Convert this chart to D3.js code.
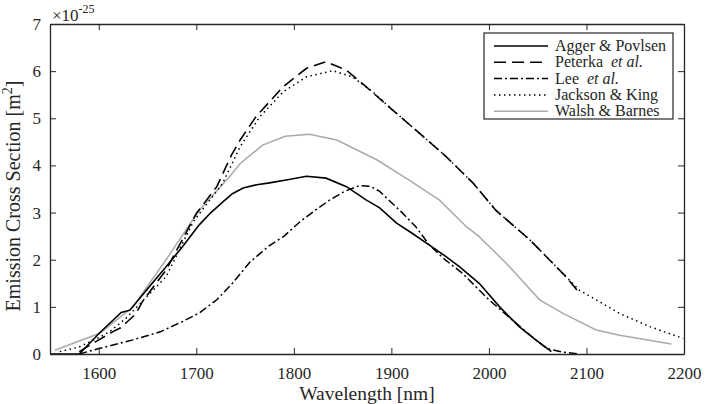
<!DOCTYPE html>
<html>
<head>
<meta charset="utf-8">
<script src="https://cdn.jsdelivr.net/npm/d3@7"></script>
<style>
  body { margin: 0; background: #fff; }
  svg { display: block; }
</style>
</head>
<body>
<div id="chart"></div>
<script>
// series data (wavelength in nm, cross section in 1e-25 m^2)
var aggerX = [1550, 1580, 1601, 1623, 1632, 1649, 1669, 1686, 1703, 1715, 1727, 1737, 1748, 1762, 1775, 1795, 1813, 1833, 1854, 1874, 1888, 1905, 1922, 1939, 1955, 1970, 1990, 2011, 2031, 2048, 2059, 2064];
var aggerY = [0, 0, 0.45, 0.88, 0.93, 1.36, 1.85, 2.28, 2.74, 3.00, 3.22, 3.40, 3.52, 3.59, 3.63, 3.70, 3.77, 3.73, 3.55, 3.27, 3.10, 2.78, 2.55, 2.31, 2.08, 1.85, 1.50, 1.00, 0.58, 0.30, 0.13, 0.05];

var peterkaX = [1580, 1600, 1615, 1622, 1630, 1638, 1645, 1669, 1700, 1721, 1736, 1745, 1761, 1789, 1813, 1833, 1854, 1874, 1901, 1929, 1956, 1984, 2007, 2042, 2079, 2093];
var peterkaY = [0.05, 0.30, 0.48, 0.55, 0.70, 0.85, 1.12, 1.78, 2.98, 3.55, 4.22, 4.54, 5.03, 5.67, 6.06, 6.20, 6.02, 5.67, 5.18, 4.68, 4.19, 3.62, 3.05, 2.42, 1.64, 1.29];

var leeX = [1580, 1601, 1635, 1663, 1686, 1703, 1721, 1737, 1755, 1775, 1790, 1806, 1822, 1837, 1852, 1867, 1878, 1888, 1898, 1910, 1925, 1939, 1955, 1973, 2000, 2024, 2045, 2059, 2075, 2093];
var leeY = [0, 0.12, 0.30, 0.47, 0.69, 0.87, 1.15, 1.50, 1.95, 2.30, 2.50, 2.80, 3.05, 3.27, 3.45, 3.57, 3.56, 3.45, 3.25, 3.02, 2.70, 2.31, 2.00, 1.71, 1.15, 0.72, 0.35, 0.12, 0.04, 0.0];

var jacksonX = [1560, 1580, 1601, 1611, 1628, 1669, 1697, 1727, 1745, 1765, 1789, 1813, 1840, 1860, 1881, 1901, 1929, 1956, 1984, 2007, 2042, 2079, 2093, 2110, 2134, 2165, 2199];
var jacksonY = [0.05, 0.15, 0.36, 0.47, 0.76, 1.64, 2.81, 3.62, 4.40, 5.03, 5.56, 5.88, 6.01, 5.88, 5.56, 5.18, 4.68, 4.19, 3.62, 3.05, 2.42, 1.64, 1.35, 1.15, 0.86, 0.58, 0.33];

var walshX = [1555, 1601, 1635, 1669, 1703, 1734, 1745, 1768, 1791, 1816, 1844, 1885, 1915, 1949, 1977, 1990, 2018, 2052, 2076, 2110, 2134, 2187];
var walshY = [0.08, 0.44, 1.0, 2.0, 3.05, 3.76, 4.04, 4.43, 4.62, 4.66, 4.54, 4.12, 3.73, 3.27, 2.70, 2.49, 1.92, 1.15, 0.86, 0.51, 0.40, 0.21];

var seriesNames = ["Agger & Povlsen", "Peterka", "Lee", "Jackson & King", "Walsh & Barnes"];
var xTicks = [1600, 1700, 1800, 1900, 2000, 2100, 2200];
var yTicks = [0, 1, 2, 3, 4, 5, 6, 7];

var font = "'Liberation Serif', 'Times New Roman', serif";

// set the dimensions and margins of the graph
var margin = { top: 24, right: 22, bottom: 50, left: 50 },
    width = 706 - margin.left - margin.right,
    height = 404 - margin.top - margin.bottom;

var svg = d3.select("#chart")
    .append("svg")
    .attr("width", 706)
    .attr("height", 404)
    .append("g")
    .attr("transform", "translate(" + margin.left + "," + margin.top + ")");

var x = d3.scaleLinear().domain([1550, 2200]).range([0, width]);
var y = d3.scaleLinear().domain([0, 7]).range([height, 0]);

var axisColor = "#262626";

// build series table
var series = [
    { name: seriesNames[0], xs: aggerX, ys: aggerY, color: "#000", dash: null, w: 1.6 },
    { name: seriesNames[1], xs: peterkaX, ys: peterkaY, color: "#000", dash: "12,6", w: 1.6 },
    { name: seriesNames[2], xs: leeX, ys: leeY, color: "#000", dash: "8,3,2,3", w: 1.5 },
    { name: seriesNames[3], xs: jacksonX, ys: jacksonY, color: "#000", dash: "1.5,3.5", w: 1.5 },
    { name: seriesNames[4], xs: walshX, ys: walshY, color: "#aaaaaa", dash: null, w: 1.5 }
];

var line = d3.line()
    .x(function (d) { return x(d[0]); })
    .y(function (d) { return y(d[1]); });

svg.append("clipPath").attr("id", "clip")
    .append("rect").attr("width", width).attr("height", height);
var plot = svg.append("g").attr("clip-path", "url(#clip)");

// draw gray first so black lines sit on top
[4, 3, 1, 2, 0].forEach(function (i) {
    var s = series[i];
    plot.append("path")
        .datum(d3.zip(s.xs, s.ys))
        .attr("fill", "none")
        .attr("stroke", s.color)
        .attr("stroke-width", s.w)
        .attr("stroke-dasharray", s.dash)
        .attr("d", line);
});

// axes (ticks pointing inward, mirrored box)
function styleAxis(g) {
    g.attr("font-family", null).attr("font-size", null);
    g.select(".domain").attr("stroke", axisColor).attr("stroke-width", 1.3);
    g.selectAll(".tick line").attr("stroke", axisColor).attr("stroke-width", 1);
    g.selectAll(".tick text")
        .style("font-family", font)
        .style("font-size", "17px")
        .attr("fill", axisColor);
}

svg.append("g")
    .attr("transform", "translate(0," + height + ")")
    .call(d3.axisBottom(x).tickValues(xTicks).tickFormat(d3.format("d")).tickSize(-6).tickSizeOuter(0).tickPadding(13))
    .call(styleAxis);

svg.append("g")
    .call(d3.axisLeft(y).tickValues(yTicks).tickFormat(d3.format("d")).tickSize(-6).tickSizeOuter(0).tickPadding(9))
    .call(styleAxis);

svg.append("g")
    .call(d3.axisTop(x).tickValues(xTicks).tickSize(-6).tickSizeOuter(0).tickFormat(""))
    .call(styleAxis);

svg.append("g")
    .attr("transform", "translate(" + width + ",0)")
    .call(d3.axisRight(y).tickValues(yTicks).tickSize(-6).tickSizeOuter(0).tickFormat(""))
    .call(styleAxis);

// exponent label
var expo = svg.append("text")
    .attr("x", 2)
    .attr("y", -3)
    .attr("fill", axisColor)
    .style("font-family", font)
    .style("font-size", "17px");
expo.append("tspan").text("\u00d710");
expo.append("tspan").attr("dy", -8).style("font-size", "12px").text("-25");

// x-label
svg.append("text")
    .attr("text-anchor", "middle")
    .attr("x", width / 2)
    .attr("y", height + 45.5)
    .attr("fill", axisColor)
    .style("font-family", font)
    .style("font-size", "19.5px")
    .text("Wavelength [nm]");

// y-label
var yl = svg.append("text")
    .attr("text-anchor", "middle")
    .attr("transform", "translate(-30," + (height / 2 + 7) + ") rotate(-90)")
    .attr("fill", axisColor)
    .style("font-family", font)
    .style("font-size", "20px");
yl.append("tspan").text("Emission Cross Section [m");
yl.append("tspan").attr("dy", -8).style("font-size", "14px").text("2");
yl.append("tspan").attr("dy", 8).text("]");

// legend
var lg = svg.append("g").attr("transform", "translate(" + (484 - margin.left) + "," + (33 - margin.top) + ")");
lg.append("rect")
    .attr("width", 189)
    .attr("height", 86)
    .attr("fill", "#fff")
    .attr("stroke", axisColor)
    .attr("stroke-width", 1.2);

series.forEach(function (s, i) {
    var ry = 13 + i * 16.3;
    lg.append("line")
        .attr("x1", 10).attr("x2", 64)
        .attr("y1", ry).attr("y2", ry)
        .attr("stroke", s.color)
        .attr("stroke-width", s.w)
        .attr("stroke-dasharray", s.dash);
    var t = lg.append("text")
        .attr("x", 71)
        .attr("y", ry + 5)
        .attr("fill", axisColor)
        .style("font-family", font)
        .style("font-size", "16px");
    if (i === 1 || i === 2) {
        t.append("tspan").text(s.name + "\u00a0");
        t.append("tspan").style("font-style", "italic").text(" et al.");
    } else {
        t.text(s.name);
    }
});
</script>
</body>
</html>
